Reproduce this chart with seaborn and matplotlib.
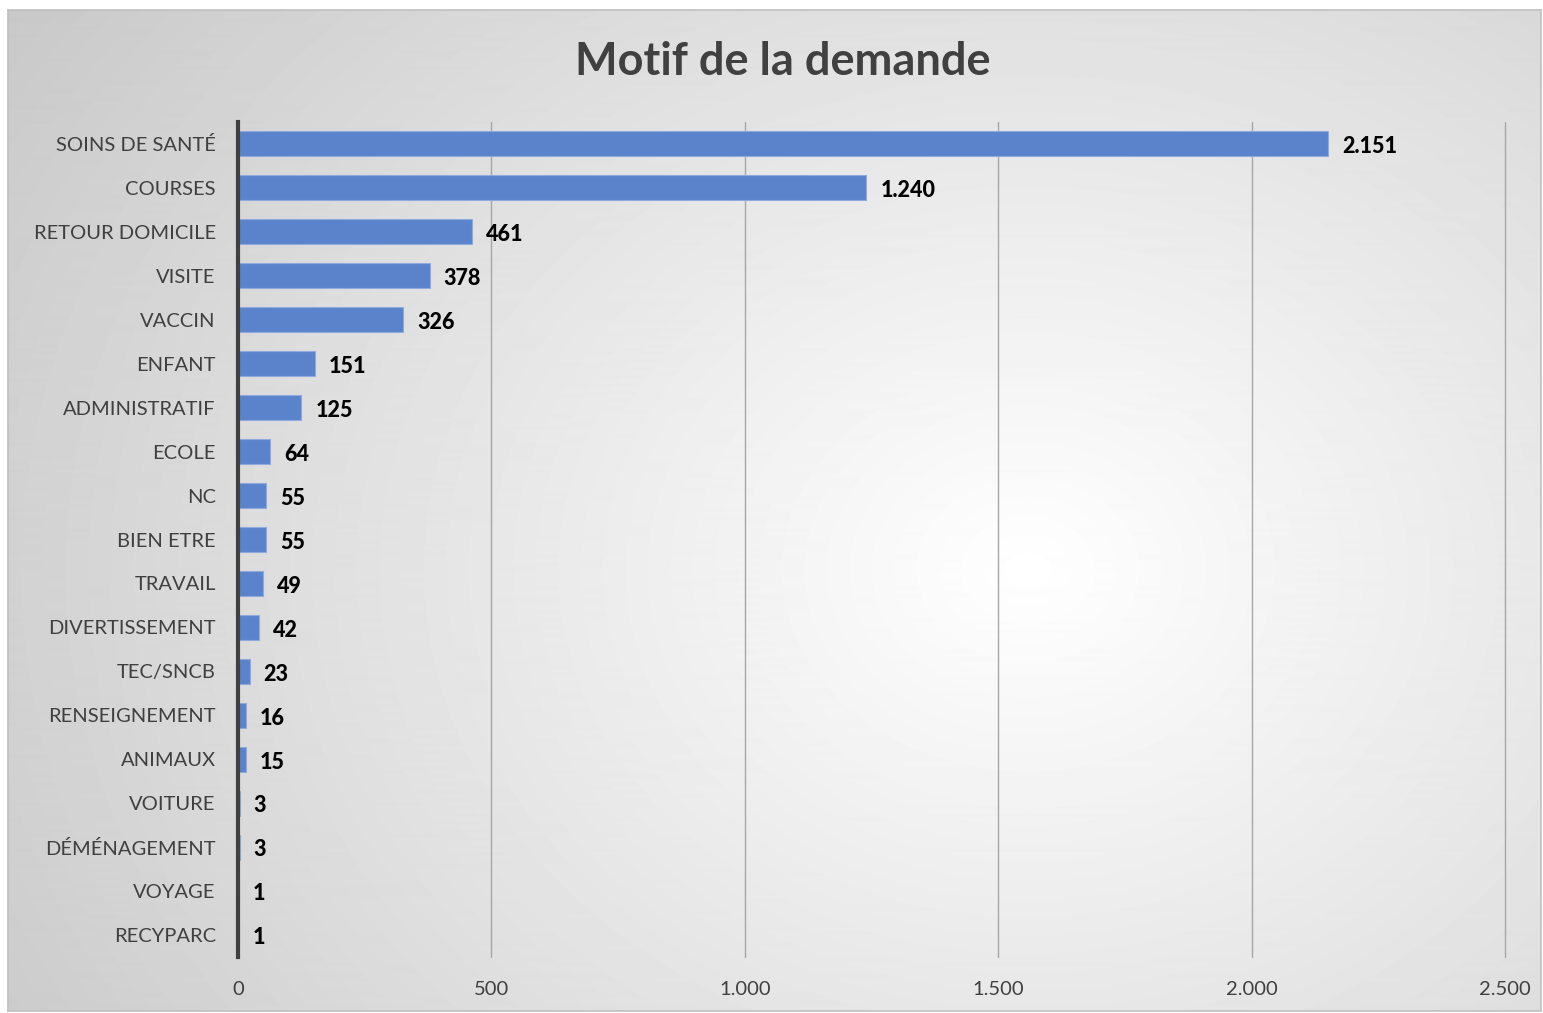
import matplotlib.pyplot as plt
import seaborn as sns
import pandas as pd
import numpy as np

motifs = ['SOINS DE SANTÉ', 'COURSES', 'RETOUR DOMICILE', 'VISITE', 'VACCIN', 'ENFANT',
          'ADMINISTRATIF', 'ECOLE', 'NC', 'BIEN ETRE', 'TRAVAIL', 'DIVERTISSEMENT',
          'TEC/SNCB', 'RENSEIGNEMENT', 'ANIMAUX', 'VOITURE', 'DÉMÉNAGEMENT', 'VOYAGE', 'RECYPARC']
nombres = [2151, 1240, 461, 378, 326, 151, 125, 64, 55, 55, 49, 42, 23, 16, 15, 3, 3, 1, 1]
ticks_x = [0, 500, 1000, 1500, 2000, 2500]

df = pd.DataFrame({'Motif': motifs, 'Nombre': nombres})

gris_texte = '#404040'
bleu = '#5b83cb'


def fmt(v):
    return f'{v:,}'.replace(',', '.')


sns.set_style('white')
plt.rcParams['font.family'] = ['Lato', 'DejaVu Sans']

W, H = 1543, 1013
fig = plt.figure(figsize=(W / 100, H / 100), dpi=100)
fig.patch.set_facecolor('white')

# fond dégradé radial façon Excel
bg = fig.add_axes([8 / W, 1 - 1011 / H, 1533 / W, 1001 / H], zorder=-5)
yy, xx = np.mgrid[0:1001, 0:1533]
d = np.sqrt(((xx - 1020) / 1100) ** 2 + ((yy - 560) / 900) ** 2)
val = np.clip(1 - 0.24 * np.clip(d, 0, 1.25) / 1.25, 0, 1)
bg.imshow(val, cmap='gray', vmin=0, vmax=1, aspect='auto', interpolation='bilinear')
bg.set_xticks([])
bg.set_yticks([])
for s in bg.spines.values():
    s.set_color('#c0c0c0')
    s.set_linewidth(1.2)

ax = fig.add_axes([238 / W, 1 - 957 / H, (1505 - 238) / W, (957 - 122) / H])
ax.patch.set_alpha(0)
sns.barplot(data=df, x='Nombre', y='Motif', order=motifs, color=bleu, width=0.57,
            saturation=1, edgecolor='#8fabdd', linewidth=0.8, ax=ax, zorder=3)

ax.set_xlim(0, 2500)
ax.set_xticks(ticks_x)
ax.set_xticklabels([fmt(t) for t in ticks_x])
ax.grid(axis='x', color='#a6a6a6', linewidth=1, zorder=0)
for gl in ax.get_xgridlines():
    gl.set_clip_on(False)
ax.tick_params(axis='x', length=0, pad=17, labelsize=14.5, labelcolor=gris_texte)
ax.tick_params(axis='y', length=0, pad=16, labelsize=14.5, labelcolor=gris_texte)
ax.set_xlabel('')
ax.set_ylabel('')
for s in ['top', 'right', 'bottom']:
    ax.spines[s].set_visible(False)
ax.spines['left'].set_color('#404040')
ax.spines['left'].set_linewidth(3)
ax.spines['left'].set_zorder(4)

for i, v in enumerate(nombres):
    ax.annotate(fmt(v), xy=(v, i), xytext=(10, -2), textcoords='offset points',
                va='center', ha='left', fontsize=15.5, fontweight='black', color='black')

fig.text(783 / W, 1 - 62 / H, 'Motif de la demande', ha='center', va='center',
         fontsize=32.5, fontweight='bold', color=gris_texte)

plt.savefig('out.png', dpi=100)
